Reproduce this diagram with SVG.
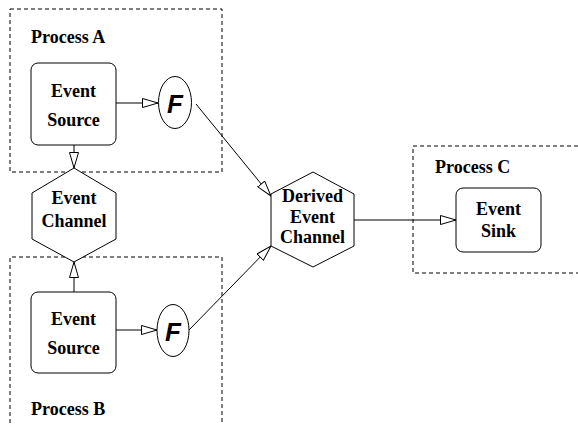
<svg xmlns="http://www.w3.org/2000/svg" width="578" height="425" viewBox="0 0 578 425">
<defs>
<style>
.proc{fill:none;stroke:#000;stroke-width:1;stroke-dasharray:4,3}
.node{fill:#fff;stroke:#000;stroke-width:1}
.lbl{font-family:"Liberation Serif","Times New Roman",serif;font-weight:bold;font-size:18px;fill:#000}
.mid{text-anchor:middle}
.f{font-family:"Liberation Sans",Arial,sans-serif;font-weight:bold;font-style:italic;font-size:26px;text-anchor:middle;fill:#000}
.edge{fill:none;stroke:#000;stroke-width:1;marker-end:url(#arr)}
</style>
<marker id="arr" markerUnits="userSpaceOnUse" markerWidth="18" markerHeight="12" refX="16" refY="5" orient="auto" viewBox="0 0 18 12">
<path d="M0.5,0.5 L16,5 L0.5,9.5 Z" fill="#fff" stroke="#000" stroke-width="1"/>
</marker>
</defs>
<rect width="578" height="425" fill="#fff"/>
<g id="processA">
<rect class="proc" x="10" y="9" width="212" height="163"/>
<text class="lbl" x="31" y="43">Process A</text>
</g>
<g id="processB">
<path class="proc" d="M10,430 L10,257 L222,257 L222,430"/>
<text class="lbl" x="31" y="415">Process B</text>
</g>
<g id="processC">
<path class="proc" d="M585,146 L413,146 L413,273 L585,273"/>
<text class="lbl" x="435" y="173">Process C</text>
</g>
<g id="connectors">
<line class="edge" x1="116" y1="103" x2="158" y2="103"/>
<line class="edge" x1="74" y1="145" x2="74" y2="168"/>
<line class="edge" x1="74" y1="292" x2="74" y2="262"/>
<line class="edge" x1="116" y1="330" x2="157" y2="330"/>
<line class="edge" x1="196" y1="104" x2="271" y2="196"/>
<line class="edge" x1="189" y1="330" x2="271" y2="246"/>
<line class="edge" x1="354" y1="220" x2="456" y2="220"/>
</g>
<g id="sourceA">
<rect class="node" x="31" y="63" width="85" height="82" rx="7"/>
<text class="lbl mid" x="73.5" y="97">Event</text>
<text class="lbl mid" x="73.5" y="126">Source</text>
</g>
<g id="filterA">
<ellipse class="node" cx="175" cy="102.5" rx="16.5" ry="26"/>
<text class="f" x="175" y="113">F</text>
</g>
<g id="channel">
<polygon class="node" points="74,168 116,193 116,239 74,262 32,239 32,193"/>
<text class="lbl mid" x="74" y="204">Event</text>
<text class="lbl mid" x="74" y="227">Channel</text>
</g>
<g id="sourceB">
<rect class="node" x="31" y="292" width="85" height="81" rx="7"/>
<text class="lbl mid" x="73.5" y="325">Event</text>
<text class="lbl mid" x="73.5" y="354">Source</text>
</g>
<g id="filterB">
<ellipse class="node" cx="173" cy="330.5" rx="16" ry="26"/>
<text class="f" x="173" y="341">F</text>
</g>
<g id="derived">
<polygon class="node" points="313,172 354,194 354,246 313,267 271,246 271,194"/>
<text class="lbl mid" x="312.5" y="202">Derived</text>
<text class="lbl mid" x="312.5" y="223">Event</text>
<text class="lbl mid" x="312.5" y="243">Channel</text>
</g>
<g id="sink">
<rect class="node" x="456" y="188" width="85" height="64" rx="7"/>
<text class="lbl mid" x="498.5" y="215">Event</text>
<text class="lbl mid" x="498.5" y="237">Sink</text>
</g>
</svg>
